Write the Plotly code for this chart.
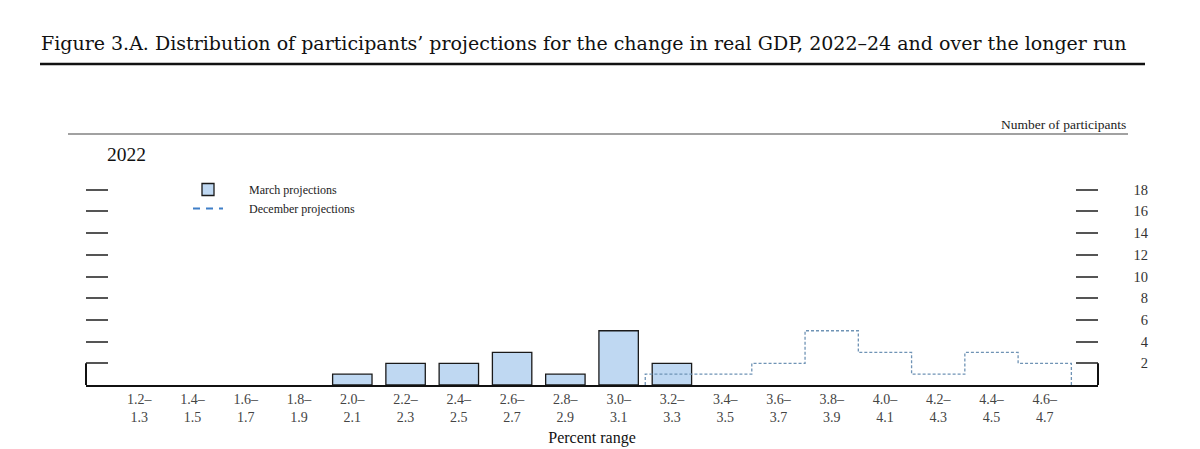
import plotly.graph_objects as go

categories = ["1.2–<br>1.3", "1.4–<br>1.5", "1.6–<br>1.7", "1.8–<br>1.9", "2.0–<br>2.1",
              "2.2–<br>2.3", "2.4–<br>2.5", "2.6–<br>2.7", "2.8–<br>2.9", "3.0–<br>3.1",
              "3.2–<br>3.3", "3.4–<br>3.5", "3.6–<br>3.7", "3.8–<br>3.9", "4.0–<br>4.1",
              "4.2–<br>4.3", "4.4–<br>4.5", "4.6–<br>4.7"]
march = [0, 0, 0, 0, 1, 2, 2, 3, 1, 5, 2, 0, 0, 0, 0, 0, 0, 0]
december = [0, 0, 0, 0, 0, 0, 0, 0, 0, 0, 1, 1, 2, 5, 3, 1, 3, 2]
ytick_vals = [2, 4, 6, 8, 10, 12, 14, 16, 18]
ytick_text = [str(v) for v in ytick_vals]

idx = list(range(len(categories)))

# step outline for December projections, built from the data
nz = [i for i, v in enumerate(december) if v > 0]
i0, i1 = nz[0], nz[-1]
step_x = [i0 - 0.5]
step_y = [0]
for i in range(i0, i1 + 1):
    step_x += [i - 0.5, i + 0.5]
    step_y += [december[i], december[i]]
step_x.append(i1 + 0.5)
step_y.append(0)

SERIF = "Liberation Serif"
NB = "\u00a0"

fig = go.Figure()
fig.add_trace(go.Bar(
    x=idx, y=[v if v > 0 else None for v in march], width=0.74,
    name=NB * 7 + "March projections",
    marker=dict(color="#BFD8F2", line=dict(color="#1a1a1a", width=1.3)),
))
fig.add_trace(go.Scatter(
    x=step_x, y=step_y, mode="lines", showlegend=False,
    line=dict(color="#6f93b5", width=1.3, dash="3px,2px"),
))
fig.add_trace(go.Scatter(
    x=[None], y=[None], mode="lines", name=NB * 7 + "December projections",
    line=dict(color="#3f7fc8", width=2, dash="7px,6px"),
))
fig.add_trace(go.Scatter(x=[None], y=[None], yaxis="y3", showlegend=False))
fig.add_trace(go.Scatter(x=[None], y=[None], yaxis="y2", showlegend=False))

# page body has an 8px offset; figure occupies the rest of the window
OFF = 8
W, H = 1200 - OFF, 449 - OFF
L, R, T, B = 86 - OFF, 1200 - 1160, 168 - OFF, 449 - 385
pw = W - L - R
ph = H - T - B
def px(x):
    return (x - OFF - L) / pw
def py(y):
    return (H - B - (y - OFF)) / ph

dom_end = 1012 / pw

fig.update_layout(
    width=W, height=H,
    margin=dict(l=L, r=R, t=T, b=B, autoexpand=False),
    plot_bgcolor="white", paper_bgcolor="white",
    font=dict(family=SERIF, color="#222"),
    xaxis=dict(
        domain=[0, dom_end], range=[-1, 18], automargin=False,
        tickvals=idx, ticktext=categories,
        tickfont=dict(size=14, color="#444", family=SERIF),
        showline=True, linecolor="#111", linewidth=2,
        showgrid=False, zeroline=False, ticks="",
        title=dict(text="Percent range", font=dict(size=16, color="#111", family=SERIF), standoff=8),
    ),
    yaxis=dict(
        range=[0, 20], tickvals=ytick_vals, ticks="inside", ticklen=22, automargin=False,
        tickwidth=1.5, tickcolor="#555", showticklabels=False,
        showgrid=False, zeroline=False, showline=False,
    ),
    yaxis2=dict(
        range=[0, 20], tickvals=ytick_vals, ticks="inside", ticklen=22, automargin=False,
        tickwidth=1.5, tickcolor="#555", showticklabels=False,
        showgrid=False, zeroline=False, showline=False,
        overlaying="y", side="right", anchor="x",
    ),
    yaxis3=dict(
        range=[0, 20], tickvals=ytick_vals, ticktext=ytick_text, ticks="", automargin=False,
        showgrid=False, zeroline=False, showline=False,
        overlaying="y", side="left", anchor="free", position=px(1148),
        tickfont=dict(size=14.5, color="#333", family=SERIF),
    ),
    legend=dict(
        x=px(188), y=py(175), xanchor="left", yanchor="top",
        bgcolor="rgba(0,0,0,0)", font=dict(size=12, color="#222", family=SERIF),
        tracegroupgap=0, itemwidth=30,
    ),
    showlegend=True,
)

shapes = [
    dict(type="line", xref="paper", yref="paper", x0=px(40), x1=px(1145), y0=py(64), y1=py(64),
         line=dict(color="#111", width=2.5)),
    dict(type="line", xref="paper", yref="paper", x0=px(68), x1=px(1128), y0=py(134), y1=py(134),
         line=dict(color="#444", width=1.2)),
    dict(type="line", xref="x domain", yref="y", x0=0, x1=0, y0=0, y1=ytick_vals[0],
         line=dict(color="#111", width=2)),
    dict(type="line", xref="x domain", yref="y", x0=1, x1=1, y0=0, y1=ytick_vals[0],
         line=dict(color="#111", width=2)),
]
fig.update_layout(shapes=shapes)

fig.add_annotation(
    text="Figure 3.A. Distribution of participants’ projections for the change in real GDP, 2022–24 and over the longer run",
    xref="paper", yref="paper", x=px(39), y=py(43), xanchor="left", yanchor="middle",
    showarrow=False, font=dict(family="DejaVu Serif", size=19, color="#111"),
)
fig.add_annotation(
    text="Number of participants", xref="paper", yref="paper", x=px(1128), y=py(124),
    xanchor="right", yanchor="middle", showarrow=False,
    font=dict(family=SERIF, size=13.5, color="#222"),
)
fig.add_annotation(
    text="2022", xref="paper", yref="paper", x=px(105), y=py(154),
    xanchor="left", yanchor="middle", showarrow=False,
    font=dict(family=SERIF, size=19.5, color="#111"),
)

fig.write_html("out.html")
